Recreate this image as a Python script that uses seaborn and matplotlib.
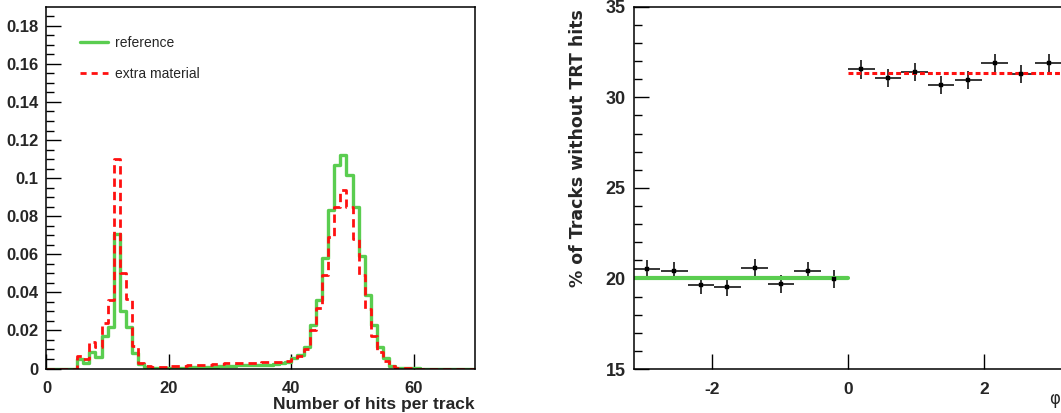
import numpy as np
import pandas as pd
import matplotlib
matplotlib.use("Agg")
import matplotlib.pyplot as plt
from matplotlib.lines import Line2D
import seaborn as sns

# left panel: fraction of tracks per number-of-hits bin (bin lower edge = index)
hit_edges = np.arange(0, 71)
hits_reference = [
    0, 0, 0, 0, 0,
    0.0049, 0.0028, 0.0088, 0.0058, 0.0172, 0.0216, 0.0704, 0.0304, 0.0216, 0.0079, 0.0023, 0.0008,
    0.0003, 0.0003, 0.0003, 0.0003, 0.0004, 0.0005, 0.0006, 0.0007, 0.0008, 0.0009, 0.0010,
    0.0012, 0.0013, 0.0015, 0.0016, 0.0017, 0.0018, 0.0019, 0.0020, 0.0021, 0.0023,
    0.0027, 0.0033, 0.0054, 0.0071, 0.0114, 0.0228, 0.0360, 0.0578, 0.0832, 0.1068, 0.1120,
    0.1016, 0.0846, 0.0592, 0.0386, 0.0228, 0.0114, 0.0054, 0.0015, 0.0005, 0.0002,
    0.0001, 0.0001, 0, 0, 0, 0, 0, 0, 0, 0, 0,
]
hits_extra = [
    0, 0, 0, 0, 0,
    0.0064, 0.0050, 0.0140, 0.0112, 0.0240, 0.0360, 0.1100, 0.0500, 0.0365, 0.0120, 0.0030, 0.0012,
    0.0006, 0.0006, 0.0008, 0.0012, 0.0014, 0.0015, 0.0016, 0.0018, 0.0019, 0.0020, 0.0022,
    0.0025, 0.0027, 0.0028, 0.0030, 0.0030, 0.0031, 0.0031, 0.0032, 0.0033, 0.0034,
    0.0034, 0.0040, 0.0048, 0.0065, 0.0100, 0.0200, 0.0320, 0.0490, 0.0690, 0.0850, 0.0940,
    0.0850, 0.0680, 0.0490, 0.0310, 0.0170, 0.0085, 0.0040, 0.0013, 0.0005, 0.0002,
    0.0001, 0, 0, 0, 0, 0, 0, 0, 0, 0, 0,
]

# right panel: % of tracks without TRT hits vs phi
phi_centers = [-2.95, -2.55, -2.16, -1.77, -1.37, -0.98, -0.59, -0.20,
               0.20, 0.59, 0.98, 1.37, 1.77, 2.16, 2.55, 2.95]
pct_no_trt = [20.50, 20.43, 19.64, 19.51, 20.56, 19.71, 20.40, 19.96,
              31.54, 31.08, 31.41, 30.69, 30.98, 31.89, 31.30, 31.87]
pct_err = 0.5
phi_halfwidth = 0.196
fit_ref_phi = [-np.pi, 0]
fit_ref_val = [20.05, 20.05]
fit_extra_phi = [0, np.pi]
fit_extra_val = [31.36, 31.36]

green = "#5acd50"
red = "#ff1010"

sns.set_style("ticks")
plt.rcParams["font.family"] = ["Liberation Sans Narrow", "Liberation Sans", "DejaVu Sans"]
plt.rcParams["font.weight"] = "bold"
plt.rcParams["axes.unicode_minus"] = False

fig = plt.figure(figsize=(10.61, 4.13), dpi=100)
ax1 = fig.add_axes([0.0438, 0.1077, 0.4039, 0.876])
ax2 = fig.add_axes([0.5976, 0.1065, 0.4030, 0.877])

# step outline: value of each bin held from its lower edge, closed at the last edge
steps = pd.DataFrame({
    "edge": hit_edges,
    "reference": hits_reference + [hits_reference[-1]],
    "extra": hits_extra + [hits_extra[-1]],
})
sns.lineplot(data=steps, x="edge", y="reference", drawstyle="steps-post",
             estimator=None, color=green, linewidth=2.4, ax=ax1)
sns.lineplot(data=steps, x="edge", y="extra", drawstyle="steps-post",
             estimator=None, color=red, linewidth=2.0, ax=ax1)
ax1.lines[-1].set_linestyle((0, (3, 1.8)))

ax1.set_xlim(0, 70)
ax1.set_ylim(0, 0.19)
ax1.set_xticks([0, 20, 40, 60])
ax1.set_yticks(np.arange(0, 0.181, 0.02))
ax1.set_yticks(np.arange(0, 0.19, 0.005), minor=True)
ax1.set_yticklabels(["0", "0.02", "0.04", "0.06", "0.08", "0.1",
                     "0.12", "0.14", "0.16", "0.18"])
ax1.set_ylabel("")
ax1.set_xlabel("Number of hits per track", fontsize=12.5, fontweight="bold")
ax1.xaxis.set_label_coords(1.0, -0.078)
ax1.xaxis.label.set_horizontalalignment("right")

handles = [Line2D([], [], color=green, lw=2.4),
           Line2D([], [], color=red, lw=2.0, linestyle=(0, (2.2, 1.8)))]
ax1.legend(handles, ["reference", "extra material"], loc="upper left",
           bbox_to_anchor=(0.05, 0.955), frameon=False, handlelength=2.0,
           handletextpad=0.5, labelspacing=1.25,
           prop={"weight": "normal", "size": 10})

# right panel
ax2.errorbar(phi_centers, pct_no_trt, xerr=phi_halfwidth, yerr=pct_err, fmt="none",
             ecolor="black", elinewidth=1.1, capsize=0)
sns.scatterplot(x=phi_centers, y=pct_no_trt, marker="s", s=10, color="black",
                edgecolor="black", ax=ax2, zorder=5)
sns.lineplot(x=fit_ref_phi, y=fit_ref_val, color=green, linewidth=3.0, ax=ax2)
sns.lineplot(x=fit_extra_phi, y=fit_extra_val, color=red, linewidth=2.2, ax=ax2)
ax2.lines[-1].set_linestyle((0, (1.6, 1.0)))
ax2.set_xlim(-np.pi, np.pi)
ax2.set_ylim(15, 35)
ax2.set_xticks([-2, 0, 2])
ax2.set_yticks([15, 20, 25, 30, 35])
ax2.set_yticks(np.arange(15, 35.1, 1), minor=True)
ax2.set_ylabel("% of Tracks without TRT hits", fontsize=12.5, fontweight="bold",
               family=["DejaVu Sans"])
ax2.yaxis.set_label_coords(-0.11, 0.61)
ax2.set_xlabel("")
fig.text(0.9995, 0.035, "φ", fontsize=12, fontweight="normal",
         family=["DejaVu Sans"], ha="right", va="center")

for ax in (ax1, ax2):
    for sp in ax.spines.values():
        sp.set_visible(True)
        sp.set_linewidth(1.1)
        sp.set_color("black")
    ax.tick_params(which="both", direction="in", width=1.0, color="black")
    ax.tick_params(which="major", length=11, labelsize=12, pad=6)
    ax.tick_params(which="minor", length=5.5)
    ax.tick_params(axis="x", which="minor", length=0)
    ax.tick_params(axis="x", pad=9)
    for lab in ax.get_xticklabels() + ax.get_yticklabels():
        lab.set_fontweight("bold")

ax2.tick_params(axis="y", labelsize=13)
ax2.tick_params(axis="x", labelsize=12.5)

fig.savefig("out.png", dpi=100)
